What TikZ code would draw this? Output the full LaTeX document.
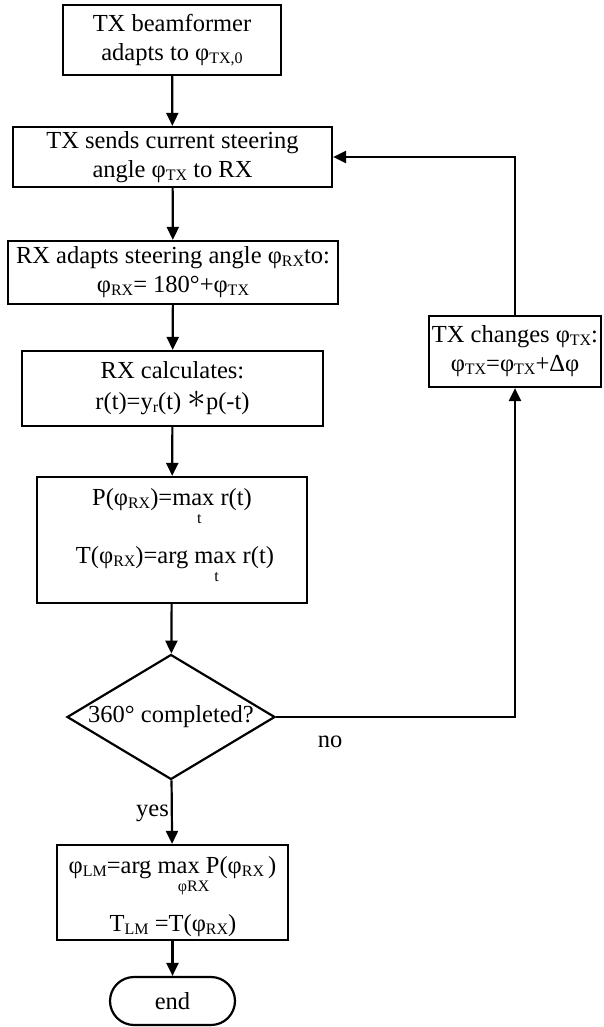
\documentclass[tikz,border=0pt]{standalone}
\usepackage{fontspec}
\setmainfont{Liberation Serif}
\usetikzlibrary{shapes.geometric,arrows.meta}
\newcommand\sbsz{\fontsize{16}{16}\selectfont}
\newcommand\sbs[1]{\raisebox{-3pt}{\sbsz #1}}
\newcommand\undr[3]{\setbox0\hbox{#1}\rlap{\hbox to \wd0{\hss\kern#3\raisebox{-18pt}{\sbsz #2}\hss}}\box0\relax}
\tikzset{
  box/.style={draw, line width=2.2pt, rectangle, inner sep=0pt},
  txt/.style={font=\fontsize{24.5}{29}\selectfont, align=center, inner sep=0pt},
  arr/.style={line width=2.2pt, -{Triangle[width=12pt,length=13pt]}},
  ln/.style={line width=2.2pt},
}
\begin{document}
\begin{tikzpicture}[x=1pt,y=-1pt]
\useasboundingbox (0,0) rectangle (603,1027);
\node[box, txt, minimum width=218pt, minimum height=70pt] (b1) at (172,40) {TX beamformer\\adapts to φ\sbs{TX,0}};
\node[box, txt, minimum width=319pt, minimum height=60pt] (b2) at (172.5,157) {TX sends current steering\\angle φ\sbs{TX} to RX};
\node[box, txt, minimum width=330pt, minimum height=63pt] (b3) at (173,272.5) {RX adapts steering angle φ\sbs{RX}to:\\φ\sbs{RX}= 180°+φ\sbs{TX}};
\node[box, txt, minimum width=301pt, minimum height=75pt] (b4) at (172.5,388.5) {RX calculates:\\[2pt]r(t)=y\sbs{r}(t) \raisebox{1pt}{\scalebox{1.5}{$\ast$}}p(-t)};
\node[box, minimum width=270pt, minimum height=126pt] (b5) at (172,540) {};
\node[txt, anchor=base] (b5a) at (172,505) {P(φ\sbs{RX})=\undr{max}{t}{12pt} r(t)};
\node[txt, anchor=base] (b5b) at (175,563) {T(φ\sbs{RX})=arg \undr{max}{t}{2pt} r(t)};
\node[draw, ln, diamond, minimum width=208pt, minimum height=125pt, inner sep=0pt] (dia) at (171,717) {};
\node[txt] (diat) at (171,717) {360° completed?};
\node[box, minimum width=231pt, minimum height=95pt] (b6) at (172.5,892.5) {};
\node[txt, anchor=base] (b6a) at (172.5,873) {φ\sbs{LM}=arg \undr{max}{φRX}{30pt} P(φ\sbs{RX}\,)};
\node[txt, anchor=base] (b6b) at (173,931) {T\sbs{LM} =T(φ\sbs{RX})};
\node[draw, ln, txt, rounded corners=24pt, minimum width=125pt, minimum height=48pt] (end) at (172.5,1001) {end};
\node[box, txt, minimum width=172pt, minimum height=71pt] (br) at (515,351.5) {TX changes φ\sbs{TX}:\\φ\sbs{TX}=φ\sbs{TX}+Δφ};
\node[txt] (no) at (330,742) {no};
\node[txt, anchor=east] (yes) at (169,813) {yes};
\draw[arr] (b1) -- (b2);
\draw[arr] (b2) -- (b3);
\draw[arr] (b3) -- (b4);
\draw[arr] (b4) -- (b5);
\draw[arr] (b5) -- (dia);
\draw[arr] (dia) -- (b6);
\draw[arr] (b6) -- (end);
\draw[arr] (dia.east) -| (br.south);
\draw[arr] (br.north) |- (b2.east);
\end{tikzpicture}
\end{document}
